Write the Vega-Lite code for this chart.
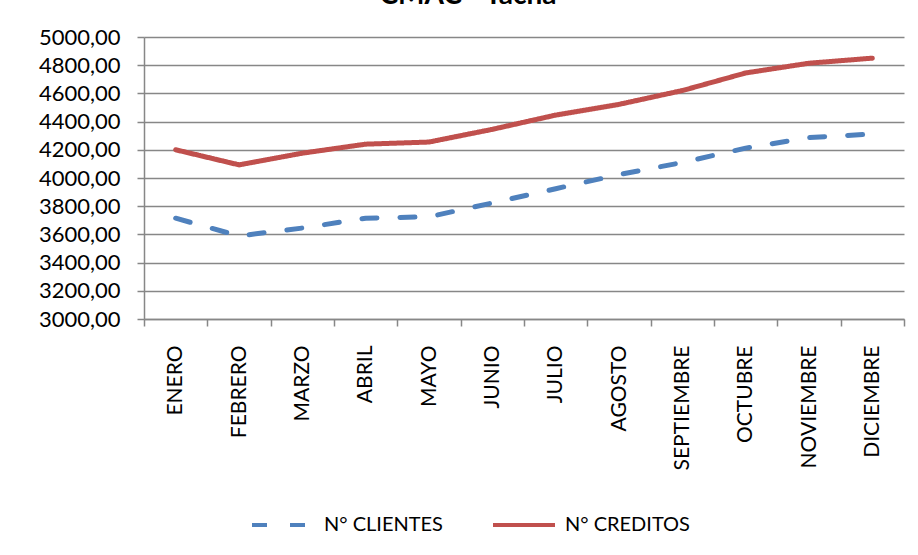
{
  "$schema": "https://vega.github.io/schema/vega-lite/v6.json",
  "width": 760,
  "height": 282,
  "autosize": {"type": "none"},
  "padding": {"left": 144, "top": 37, "right": 14, "bottom": 236},
  "background": "white",
  "title": {
    "text": "CMAC - Tacna",
    "font": "Lato",
    "fontSize": 28,
    "fontWeight": "bold",
    "color": "black",
    "frame": "group",
    "anchor": "middle",
    "dx": -56,
    "offset": 0,
    "dy": 12,
    "baseline": "bottom"
  },
  "data": {
    "values": [
      {"mes": "ENERO", "serie": "N° CLIENTES", "valor": 3715},
      {"mes": "FEBRERO", "serie": "N° CLIENTES", "valor": 3589},
      {"mes": "MARZO", "serie": "N° CLIENTES", "valor": 3645},
      {"mes": "ABRIL", "serie": "N° CLIENTES", "valor": 3715},
      {"mes": "MAYO", "serie": "N° CLIENTES", "valor": 3725},
      {"mes": "JUNIO", "serie": "N° CLIENTES", "valor": 3823},
      {"mes": "JULIO", "serie": "N° CLIENTES", "valor": 3924},
      {"mes": "AGOSTO", "serie": "N° CLIENTES", "valor": 4024},
      {"mes": "SEPTIEMBRE", "serie": "N° CLIENTES", "valor": 4110},
      {"mes": "OCTUBRE", "serie": "N° CLIENTES", "valor": 4212},
      {"mes": "NOVIEMBRE", "serie": "N° CLIENTES", "valor": 4287},
      {"mes": "DICIEMBRE", "serie": "N° CLIENTES", "valor": 4312},
      {"mes": "ENERO", "serie": "N° CREDITOS", "valor": 4200},
      {"mes": "FEBRERO", "serie": "N° CREDITOS", "valor": 4093},
      {"mes": "MARZO", "serie": "N° CREDITOS", "valor": 4176},
      {"mes": "ABRIL", "serie": "N° CREDITOS", "valor": 4240},
      {"mes": "MAYO", "serie": "N° CREDITOS", "valor": 4255},
      {"mes": "JUNIO", "serie": "N° CREDITOS", "valor": 4345},
      {"mes": "JULIO", "serie": "N° CREDITOS", "valor": 4446},
      {"mes": "AGOSTO", "serie": "N° CREDITOS", "valor": 4522},
      {"mes": "SEPTIEMBRE", "serie": "N° CREDITOS", "valor": 4620},
      {"mes": "OCTUBRE", "serie": "N° CREDITOS", "valor": 4745},
      {"mes": "NOVIEMBRE", "serie": "N° CREDITOS", "valor": 4814},
      {"mes": "DICIEMBRE", "serie": "N° CREDITOS", "valor": 4850}
    ]
  },
  "mark": {"type": "line", "strokeWidth": 5, "strokeCap": "round", "strokeJoin": "round"},
  "encoding": {
    "x": {
      "field": "mes",
      "type": "nominal",
      "sort": null,
      "bandPosition": 0.5,
      "scale": {"type": "band", "paddingInner": 0, "paddingOuter": 0},
      "axis": {
        "title": null,
        "tickBand": "extent",
        "labelAngle": -90,
        "labelFont": "Lato",
        "labelFontSize": 21,
        "labelColor": "black",
        "labelPadding": 19,
        "tickSize": 7,
        "tickColor": "#878787",
        "tickWidth": 1.5,
        "domainColor": "#878787",
        "domainWidth": 1.5,
        "grid": false
      }
    },
    "y": {
      "field": "valor",
      "type": "quantitative",
      "scale": {"domain": [3000, 5000], "nice": false, "zero": false},
      "axis": {
        "title": null,
        "values": [3000, 3200, 3400, 3600, 3800, 4000, 4200, 4400, 4600, 4800, 5000],
        "format": ".2f",
        "labelFont": "Lato",
        "labelFontSize": 22,
        "labelColor": "black",
        "labelPadding": 17,
        "tickSize": 7,
        "tickColor": "#878787",
        "tickWidth": 1.5,
        "domainColor": "#878787",
        "domainWidth": 1.5,
        "grid": true,
        "gridColor": "#878787",
        "gridWidth": 1.5
      }
    },
    "color": {
      "field": "serie",
      "type": "nominal",
      "scale": {"domain": ["N° CLIENTES", "N° CREDITOS"], "range": ["#4F81BD", "#C0504D"]},
      "legend": {
        "orient": "none",
        "legendX": 106,
        "legendY": 455,
        "direction": "horizontal",
        "title": null,
        "symbolType": "stroke",
        "symbolSize": 3844,
        "symbolStrokeWidth": 4,
        "labelFont": "Lato",
        "labelFontSize": 20,
        "labelColor": "black",
        "labelOffset": 8,
        "columnPadding": 42,
        "padding": 0
      }
    },
    "strokeDash": {
      "field": "serie",
      "type": "nominal",
      "scale": {"domain": ["N° CLIENTES", "N° CREDITOS"], "range": [[15, 23], [1, 0]]},
      "legend": {
        "orient": "none",
        "legendX": 106,
        "legendY": 455,
        "direction": "horizontal",
        "title": null,
        "symbolType": "stroke",
        "symbolSize": 3844,
        "symbolStrokeWidth": 4,
        "labelFont": "Lato",
        "labelFontSize": 20,
        "labelColor": "black",
        "labelOffset": 8,
        "columnPadding": 42,
        "padding": 0
      }
    }
  },
  "config": {
    "view": {"stroke": null},
    "locale": {"number": {"decimal": ",", "thousands": ".", "grouping": [3], "currency": ["", " €"]}}
  }
}
